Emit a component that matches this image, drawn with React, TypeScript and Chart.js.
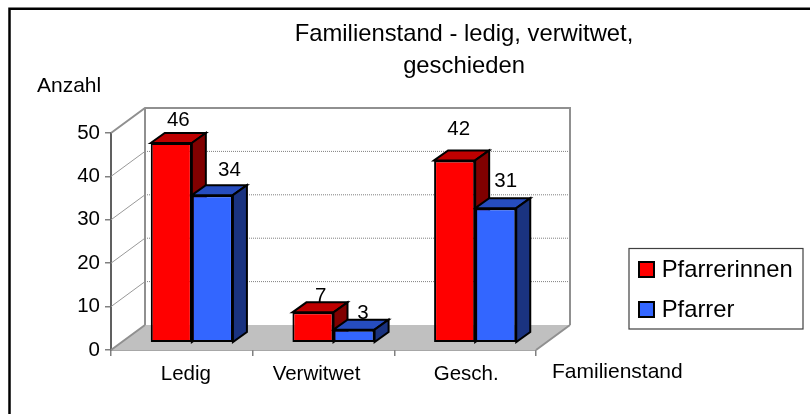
import React, { useEffect, useRef } from "react";
import { Chart, registerables } from "chart.js";

Chart.register(...registerables);

const categories = ["Ledig", "Verwitwet", "Gesch."];
const pfarrerinnen = [46, 7, 42];
const pfarrer = [34, 3, 31];
const yTicks = [0, 10, 20, 30, 40, 50];
const titleLines = ["Familienstand - ledig, verwitwet,", "geschieden"];

const FONT = '"Liberation Sans", Arial, sans-serif';
const WALL = { dx: 34, dy: -25 };
const BAR_SHIFT = { dx: 10, dy: -7.3 };
const BAR_DEPTH = { dx: 14, dy: -10 };
const EDGE = 2;
const faces = [
  { front: "#FF0000", top: "#BF0000", side: "#800000" },
  { front: "#3366FF", top: "#264DBF", side: "#1A3380" },
];
const labelNudges = [
  [[0, -7.3], [0.7, 0], [-3, -15]],
  [[10, -9], [2, -0.5], [3, -11.5]],
];
const tickNudges = [4, -7, 1];

const poly = (ctx: CanvasRenderingContext2D, pts: number[][]) => {
  ctx.beginPath();
  pts.forEach(([x, y], i) => (i ? ctx.lineTo(x, y) : ctx.moveTo(x, y)));
  ctx.closePath();
};

const scene = {
  id: "scene",
  afterLayout(chart: any) {
    chart.scales.x.getLabelItems().forEach((it: any, i: number) => {
      it.options.translation[0] += tickNudges[i];
    });
  },
  beforeDatasetsDraw(chart: any) {
    const { ctx, chartArea: a, scales } = chart;
    const { dx, dy } = WALL;
    ctx.save();
    // floor
    poly(ctx, [[a.left, a.bottom], [a.right, a.bottom], [a.right + dx, a.bottom + dy], [a.left + dx, a.bottom + dy]]);
    ctx.fillStyle = "#C0C0C0";
    ctx.fill();
    // grid on the back wall and side wall
    yTicks.forEach((v) => {
      const y = scales.y.getPixelForValue(v);
      if (v > 0 && v < 50) {
        ctx.strokeStyle = "#808080";
        ctx.lineWidth = 1;
        ctx.setLineDash([1, 1]);
        ctx.beginPath();
        ctx.moveTo(a.left + dx, y + dy);
        ctx.lineTo(a.right + dx, y + dy);
        ctx.stroke();
        ctx.setLineDash([]);
        ctx.strokeStyle = "#999999";
        ctx.beginPath();
        ctx.moveTo(a.left, y);
        ctx.lineTo(a.left + dx, y + dy);
        ctx.stroke();
      }
    });
    // wall outline
    ctx.strokeStyle = "#909090";
    ctx.lineWidth = 2;
    ctx.beginPath();
    ctx.moveTo(a.left, a.top);
    ctx.lineTo(a.left + dx, a.top + dy);
    ctx.lineTo(a.right + dx, a.top + dy);
    ctx.lineTo(a.right + dx, a.bottom + dy);
    ctx.moveTo(a.left + dx, a.bottom + dy);
    ctx.lineTo(a.left + dx, a.top + dy);
    ctx.moveTo(a.left, a.bottom);
    ctx.lineTo(a.left + dx, a.bottom + dy);
    ctx.moveTo(a.right, a.bottom);
    ctx.lineTo(a.right + dx, a.bottom + dy);
    ctx.stroke();
    // depth faces of the bars, red behind blue
    ctx.translate(BAR_SHIFT.dx, BAR_SHIFT.dy);
    const d = BAR_DEPTH;
    ctx.strokeStyle = "#000000";
    ctx.lineWidth = EDGE;
    faces.forEach((f, index) => {
      chart.getDatasetMeta(index).data.forEach((el: any) => {
        const l = el.x - el.width / 2;
        const r = el.x + el.width / 2;
        poly(ctx, [[l, el.y], [l + d.dx, el.y + d.dy], [r + d.dx, el.y + d.dy], [r, el.y]]);
        ctx.fillStyle = f.top;
        ctx.fill();
        ctx.stroke();
        poly(ctx, [[r, el.y], [r + d.dx, el.y + d.dy], [r + d.dx, el.base + d.dy], [r, el.base]]);
        ctx.fillStyle = f.side;
        ctx.fill();
        ctx.stroke();
      });
    });
    ctx.restore();
  },
  beforeDatasetDraw(chart: any) {
    chart.ctx.save();
    chart.ctx.translate(BAR_SHIFT.dx, BAR_SHIFT.dy);
  },
  afterDatasetDraw(chart: any) {
    chart.ctx.restore();
  },
  afterDatasetsDraw(chart: any) {
    const { ctx, data, chartArea: a } = chart;
    ctx.save();
    ctx.fillStyle = "#000000";
    // data labels
    ctx.font = `20.5px ${FONT}`;
    ctx.textAlign = "center";
    ctx.textBaseline = "alphabetic";
    data.datasets.forEach((ds: any, d: number) => {
      chart.getDatasetMeta(d).data.forEach((el: any, i: number) => {
        const [nx, ny] = labelNudges[d][i];
        ctx.fillText(
          String(ds.data[i]),
          el.x + BAR_SHIFT.dx + BAR_DEPTH.dx / 2 + nx,
          el.y + BAR_SHIFT.dy + BAR_DEPTH.dy + ny,
        );
      });
    });
    // title
    ctx.font = `23.8px ${FONT}`;
    titleLines.forEach((t, i) => ctx.fillText(t, 464, 40.5 + i * 32));
    // axis titles
    ctx.font = `21px ${FONT}`;
    ctx.textAlign = "left";
    ctx.fillText("Anzahl", 37, 92);
    ctx.fillText("Familienstand", 552, a.bottom + 28);
    // frame, cropped on the right and the bottom
    ctx.strokeStyle = "#000000";
    ctx.lineWidth = 2.5;
    ctx.beginPath();
    ctx.moveTo(9.5, 414);
    ctx.lineTo(9.5, 8.7);
    ctx.lineTo(810, 8.7);
    ctx.stroke();
    // legend
    ctx.strokeStyle = "#404040";
    ctx.lineWidth = 1.2;
    ctx.strokeRect(629, 248.5, 174, 80.5);
    ctx.font = `23.8px ${FONT}`;
    data.datasets.forEach((ds: any, d: number) => {
      const y = 262 + d * 40;
      ctx.fillStyle = faces[d].front;
      ctx.fillRect(639, y, 15, 15);
      ctx.strokeStyle = "#000000";
      ctx.lineWidth = EDGE;
      ctx.strokeRect(639, y, 15, 15);
      ctx.fillStyle = "#000000";
      ctx.fillText(ds.label, 661.7, y + 14.7);
    });
    ctx.restore();
  },
};

export default function App() {
  const ref = useRef<HTMLCanvasElement>(null);
  useEffect(() => {
    document.body.style.margin = "0";
    const chart = new Chart(ref.current!, {
      type: "bar",
      data: {
        labels: categories,
        datasets: [
          {
            label: "Pfarrerinnen",
            data: pfarrerinnen,
            backgroundColor: faces[0].front,
            borderColor: "#000000",
            borderWidth: EDGE,
            borderSkipped: false,
            clip: false,
          },
          {
            label: "Pfarrer",
            data: pfarrer,
            backgroundColor: faces[1].front,
            borderColor: "#000000",
            borderWidth: EDGE,
            borderSkipped: false,
            clip: false,
          },
        ],
      },
      options: {
        responsive: false,
        animation: false,
        events: [],
        categoryPercentage: 0.58,
        barPercentage: 1,
        layout: { padding: { left: 51, right: 274, top: 133, bottom: 20 } },
        plugins: { legend: { display: false }, title: { display: false }, tooltip: { enabled: false } },
        scales: {
          x: {
            afterFit: (s: any) => { s.height = 44; },
            grid: { offset: true, drawOnChartArea: false, drawTicks: true, tickLength: 6, color: "#808080", lineWidth: 1.5 },
            border: { color: "#505050", width: 1.5 },
            ticks: { color: "#000000", font: { family: FONT, size: 20.5 }, maxRotation: 0, autoSkip: false, padding: 6 },
          },
          y: {
            min: 0,
            max: 50,
            afterFit: (s: any) => { s.width = 60; },
            grid: { drawOnChartArea: false, drawTicks: true, tickLength: 6, color: "#808080", lineWidth: 1.5 },
            border: { color: "#606060", width: 2 },
            ticks: { color: "#000000", stepSize: 10, font: { family: FONT, size: 20.5 }, padding: 5 },
          },
        },
      } as any,
      plugins: [scene],
    });
    return () => chart.destroy();
  }, []);
  return <canvas ref={ref} width={810} height={414} style={{ display: "block" }} />;
}
